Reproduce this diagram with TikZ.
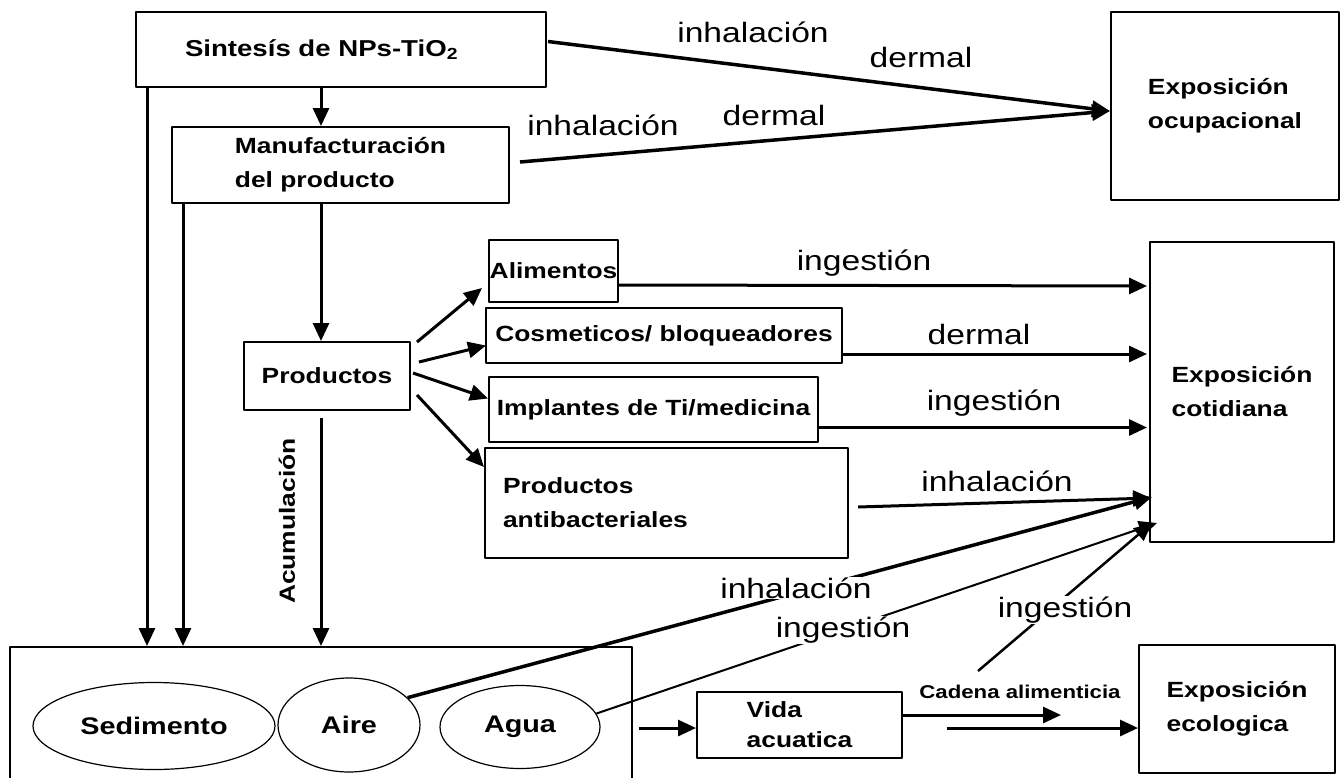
\documentclass[tikz,border=0pt]{standalone}
\usepackage{fontspec}
\setmainfont{Liberation Sans}[FakeStretch=1.2]
\usetikzlibrary{arrows.meta,shapes.geometric}
\begin{document}
\begin{tikzpicture}[>={Triangle[length=18pt,width=16pt]},line join=round,x=1pt,y=-1pt,
	box/.style={draw,line width=2pt,inner sep=0pt,align=center,font=\fontsize{22}{34}\selectfont\bfseries},
	oval/.style={draw,ellipse,line width=1.2pt,inner sep=0pt,font=\fontsize{24}{28}\selectfont\bfseries},
	lbl/.style={inner sep=1pt,font=\fontsize{28}{32}\selectfont},
	arr/.style={->,line width=3pt}]
		\useasboundingbox (0,0) rectangle (1341,777);
		\clip (0,0) rectangle (1341,777);
		\node[box,minimum width=410,minimum height=75,text width=312,inner xsep=49,align=left,font=\fontsize{23}{34}\selectfont\bfseries] (sint) at (341,49.5) {Sintesís de NPs-TiO\textsubscript{2}};
		\node[box,minimum width=337,minimum height=76,align=left] (manuf) at (340.5,165) {Manufacturación\\del producto};
		\node[box,minimum width=228,minimum height=188,align=left] (ocup) at (1225,106) {Exposición\\ocupacional};
		\node[box,minimum width=166,minimum height=68] (prod) at (327,376) {Productos};
		\node[box,minimum width=129,minimum height=62] (alim) at (553.5,271) {Alimentos};
		\node[box,minimum width=356,minimum height=55] (cosm) at (664,335.5) {Cosmeticos/ bloqueadores};
		\node[box,minimum width=329,minimum height=65] (impl) at (653.5,409.5) {Implantes de Ti/medicina};
		\node[box,minimum width=363,minimum height=110,text width=327,inner xsep=18,align=left] (anti) at (666.5,503) {Productos\\antibacteriales};
		\node[box,minimum width=184,minimum height=300,align=left] (coti) at (1242,392) {Exposición\\cotidiana};
		\node[box,minimum width=622,minimum height=150] (env) at (321,722) {};
		\node[oval,minimum width=242,minimum height=87] (sed) at (154,726) {Sedimento};
		\node[oval,minimum width=142,minimum height=94] (aire) at (349,725) {Aire};
		\node[oval,minimum width=160,minimum height=83] (agua) at (520,727) {Agua};
		\node[box,minimum width=205,minimum height=66,align=left,font=\fontsize{22}{30}\selectfont\bfseries] (vida) at (799.5,725) {Vida\\acuatica};
		\node[box,minimum width=196,minimum height=128,align=left] (ecol) at (1237,709) {Exposición\\ecologica};
		\coordinate (v1) at (147,0);
		\coordinate (v2) at (183,0);
		\coordinate (v3) at (321,0);
		\coordinate (cadA) at (978,671);
		\coordinate (cadB) at (947,728);
		\coordinate (cadC) at (1061,715);
		\draw[arr] (sint.south -| v3) -- (manuf.north -| v3);
		\draw[arr] (sint.south -| v1) -- (env.north -| v1);
		\draw[arr] (manuf.south -| v2) -- (env.north -| v2);
		\draw[arr] (manuf.south -| v3) -- (prod.north -| v3);
		\draw[arr,shorten <=7pt] (prod.south -| v3) -- (env.north -| v3);
		\draw[arr,line width=3.5pt] ([shift={(1,-8)}]sint.east) -- ([shift={(0,5)}]ocup.west);
		\draw[arr,line width=3.5pt] ([shift={(10,-3)}]manuf.east) -- ([shift={(0,5)}]ocup.west);
		\draw[arr] ([shift={(6,1)}]prod.north east) -- ([shift={(-6,17)}]alim.west);
		\draw[arr] ([shift={(8,-14)}]prod.east) -- ([shift={(1,10)}]cosm.west);
		\draw[arr] ([shift={(2,-3)}]prod.east) -- ([shift={(0,-11)}]impl.west);
		\draw[arr] ([shift={(6,19)}]prod.east) -- ([shift={(0,-36)}]anti.west);
		\draw[arr] ([shift={(0,14)}]alim.east) -- ([shift={(-2,-106)}]coti.west);
		\draw[arr] ([shift={(0,18.5)}]cosm.east) -- ([shift={(-2,-38)}]coti.west);
		\draw[arr] ([shift={(0,18)}]impl.east) -- ([shift={(-2,35.5)}]coti.west);
		\draw[arr] ([shift={(9,4)}]anti.east) -- ([shift={(2,106)}]coti.west);
		\draw[arr,line width=3.5pt] (aire.25) -- ([shift={(3,105)}]coti.west);
		\draw[arr,line width=2pt] (agua.10) -- ([shift={(8,131)}]coti.west);
		\draw[arr,line width=2.5pt] (cadA) -- ([shift={(3,131)}]coti.west);
		\draw[arr] ([shift={(6,6)}]env.east) -- ([shift={(0,3)}]vida.west);
		\draw[arr] ([shift={(0,-10)}]vida.east) -- (cadC);
		\draw[arr] (cadB) -- ([shift={(0,19)}]ecol.west);
		\node[lbl] (l1) at (753,32) {inhalación};
		\node[lbl] (l2) at (921,57) {dermal};
		\node[lbl] (l3) at (603,125) {inhalación};
		\node[lbl] (l4) at (774,115) {dermal};
		\node[lbl] (l5) at (864,263) {ingestión};
		\node[lbl] (l6) at (979,334) {dermal};
		\node[lbl] (l7) at (994,403) {ingestión};
		\node[lbl] (l8) at (997,481) {inhalación};
		\node[lbl,fill=white] (l9) at (796,588) {inhalación};
		\node[lbl,fill=white] (l10) at (843,630) {ingestión};
		\node[lbl,fill=white] (l11) at (1065,610) {ingestión};
		\node[font=\fontsize{18.5}{22}\selectfont\bfseries] (cad) at (1020,692) {Cadena alimenticia};
		\node[rotate=90,font=\fontsize{22}{26}\selectfont\bfseries] (acum) at (287,521) {Acumulación};
\end{tikzpicture}
\end{document}
